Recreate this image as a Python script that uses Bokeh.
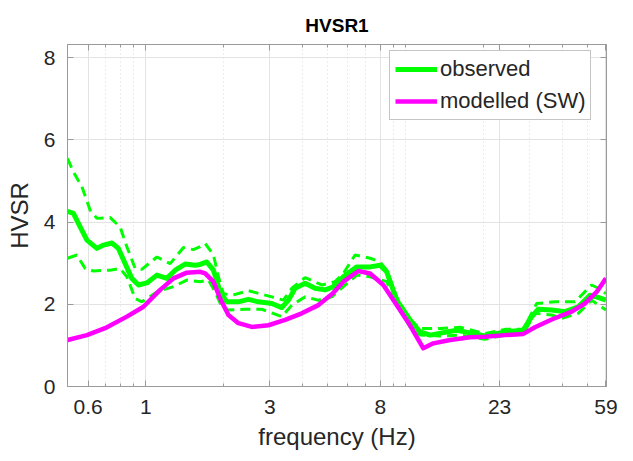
from bokeh.plotting import figure
from bokeh.models import (FixedTicker, LogAxis, LinearAxis, Legend, LegendItem,
                          Range1d, CustomJSTickFormatter)
from bokeh.embed import file_html
from bokeh.resources import INLINE

# ---------------- data ----------------
freq_mean = [0.50, 0.527, 0.56, 0.594, 0.649, 0.688, 0.741, 0.785, 0.833, 0.884,
             0.938, 1.01, 1.104, 1.206, 1.298, 1.418, 1.549, 1.62, 1.718, 1.822,
             1.933, 2.052, 2.273, 2.484, 2.714, 3.057, 3.339, 3.54, 3.756, 4.105,
             4.484, 4.90, 5.25, 5.76, 6.49, 7.30, 7.97, 8.46, 9.24, 10.40,
             11.36, 12.42, 13.97, 15.73, 16.92, 20.21, 24.12, 28.37, 30.56, 32.39,
             36.49, 41.05, 46.17, 51.2, 54.35, 59.0]
hvsr_mean = [4.26, 4.21, 3.88, 3.56, 3.36, 3.44, 3.49, 3.36, 2.99, 2.63,
             2.47, 2.52, 2.71, 2.63, 2.83, 2.98, 2.95, 2.97, 3.03, 2.83,
             2.30, 2.06, 2.06, 2.12, 2.06, 2.02, 1.92, 2.10, 2.39, 2.51,
             2.39, 2.35, 2.42, 2.67, 2.91, 2.91, 2.95, 2.79, 2.10, 1.62,
             1.33, 1.25, 1.31, 1.37, 1.33, 1.23, 1.33, 1.37, 1.70, 1.88,
             1.86, 1.82, 1.94, 2.22, 2.18, 2.10]

freq_upper = [0.50, 0.527, 0.568, 0.611, 0.649, 0.730, 0.797, 0.846, 0.911, 0.966,
              1.104, 1.242, 1.397, 1.526, 1.62, 1.693, 1.822, 1.904, 1.991, 2.144,
              2.484, 3.057, 3.387, 3.648, 4.105, 4.758, 5.35, 5.76, 6.39, 7.30,
              7.97, 8.46, 9.24, 10.40, 11.36, 13.57, 16.19, 20.21, 24.12, 28.37,
              31.94, 37.57, 44.84, 52.0, 55.1, 59.0]
hvsr_upper = [5.55, 5.22, 4.86, 4.29, 4.09, 4.11, 3.88, 3.40, 2.87, 2.85,
              3.15, 2.99, 3.38, 3.33, 3.40, 3.48, 3.20, 2.67, 2.26, 2.22,
              2.33, 2.18, 2.10, 2.39, 2.65, 2.47, 2.55, 2.75, 3.20, 3.12,
              3.03, 2.83, 2.18, 1.62, 1.41, 1.41, 1.44, 1.29, 1.39, 1.39,
              2.02, 2.06, 2.06, 2.47, 2.39, 2.26]

freq_lower = [0.50, 0.543, 0.585, 0.629, 0.730, 0.797, 0.846, 0.911, 0.966, 1.104,
              1.279, 1.439, 1.62, 1.743, 1.849, 1.962, 2.081, 2.412, 2.797, 3.339,
              3.648, 4.105, 4.618, 5.2, 5.76, 6.49, 7.30, 8.46, 9.24, 10.40,
              11.36, 13.57, 16.19, 20.21, 24.12, 28.37, 31.46, 36.49, 39.86, 46.17,
              52.0, 59.0]
hvsr_lower = [3.12, 3.20, 2.87, 2.81, 2.83, 2.87, 2.67, 2.14, 2.06, 2.30,
              2.43, 2.59, 2.55, 2.59, 2.30, 1.94, 1.86, 1.88, 1.88, 1.70,
              1.98, 2.18, 2.10, 2.18, 2.43, 2.71, 2.67, 2.55, 1.98, 1.45,
              1.25, 1.23, 1.25, 1.15, 1.25, 1.29, 1.78, 1.74, 1.66, 1.78,
              2.10, 1.86]

freq_model = [0.50, 0.594, 0.709, 0.846, 0.98, 1.136, 1.279, 1.439, 1.62, 1.693,
              1.822, 1.933, 2.081, 2.273, 2.56, 2.966, 3.438, 3.986, 4.618, 5.24,
              5.76, 6.58, 7.30, 8.21, 9.24, 10.40, 11.70, 12.78, 14.83, 17.69,
              20.21, 24.12, 28.37, 31.46, 36.49, 43.55, 49.0, 54.35, 59.0]
hvsr_model = [1.13, 1.25, 1.44, 1.70, 1.94, 2.35, 2.63, 2.77, 2.79, 2.75,
              2.55, 2.14, 1.74, 1.54, 1.45, 1.49, 1.62, 1.78, 1.98, 2.26,
              2.55, 2.81, 2.75, 2.47, 1.98, 1.49, 0.93, 1.05, 1.13, 1.20,
              1.21, 1.25, 1.28, 1.44, 1.63, 1.82, 2.02, 2.30, 2.63]

x_ticks = [0.6, 1, 3, 8, 23, 59]
x_minor = [0.5, 0.7, 0.8, 0.9, 2, 4, 5, 6, 7, 9, 10, 20, 30, 40, 50]
y_ticks = [0, 2, 4, 6, 8]

# ---------------- styling ----------------
FONT = "Liberation Sans"
TXT = "#262626"
AX = "#9a9a9a"
GREEN = "#00ff00"
MAGENTA = "#ff00ff"

p = figure(frame_width=539, frame_height=342,
           x_axis_type="log", x_range=Range1d(0.5, 59.3), y_range=Range1d(0, 8.32),
           output_backend="svg", toolbar_location=None,
           min_border_left=67, min_border_right=27, min_border_top=44, min_border_bottom=75,
           background_fill_color="white", border_fill_color="white")

p.title.text = "HVSR1"
p.title.align = "center"
p.title.text_font = FONT
p.title.text_font_size = "19px"
p.title.text_font_style = "bold"
p.title.text_color = "#000000"
p.title.standoff = 18

p.outline_line_color = AX

fmt = CustomJSTickFormatter(code="return String(tick)")
blank = CustomJSTickFormatter(code="return ''")

xax = p.xaxis[0]
xax.ticker = FixedTicker(ticks=x_ticks, minor_ticks=x_minor)
xax.formatter = fmt
xax.axis_label = "frequency (Hz)"
yax = p.yaxis[0]
yax.ticker = FixedTicker(ticks=y_ticks)
yax.axis_label = "HVSR"

for ax in (xax, yax):
    ax.axis_line_color = AX
    ax.major_tick_line_color = AX
    ax.minor_tick_line_color = AX
    ax.major_tick_in = 6
    ax.major_tick_out = 0
    ax.minor_tick_in = 3
    ax.minor_tick_out = 0
    ax.major_label_text_font = FONT
    ax.major_label_text_font_size = "21px"
    ax.major_label_text_color = TXT
    ax.axis_label_text_font = FONT
    ax.axis_label_text_font_size = "24px"
    ax.axis_label_text_font_style = "normal"
    ax.axis_label_text_color = TXT
xax.major_label_standoff = 13
xax.axis_label_standoff = 6
yax.major_label_standoff = 12
yax.axis_label_standoff = 8

top = LogAxis(ticker=FixedTicker(ticks=x_ticks, minor_ticks=x_minor), formatter=blank,
              axis_line_color=AX, major_tick_line_color=AX, minor_tick_line_color=AX,
              major_tick_in=6, major_tick_out=0, minor_tick_in=3, minor_tick_out=0,
              major_label_standoff=0)
right = LinearAxis(ticker=FixedTicker(ticks=y_ticks), formatter=blank,
                   axis_line_color=AX, major_tick_line_color=AX,
                   major_tick_in=6, major_tick_out=0, minor_tick_in=0, minor_tick_out=0,
                   major_label_standoff=0)
p.add_layout(top, "above")
p.add_layout(right, "right")

p.xgrid.ticker = FixedTicker(ticks=x_ticks, minor_ticks=x_minor)
p.xgrid.grid_line_color = "#e3e3e3"
p.xgrid.minor_grid_line_color = "#dadada"
p.xgrid.minor_grid_line_dash = "1 3"
p.ygrid.ticker = FixedTicker(ticks=y_ticks)
p.ygrid.grid_line_color = "#e3e3e3"

# ---------------- curves ----------------
p.line(freq_upper, hvsr_upper, line_color=GREEN, line_width=3, line_dash="10 6")
p.line(freq_lower, hvsr_lower, line_color=GREEN, line_width=3, line_dash="10 6")
r_mean = p.line(freq_mean, hvsr_mean, line_color=GREEN, line_width=5, line_join="round")
r_model = p.line(freq_model, hvsr_model, line_color=MAGENTA, line_width=4.5, line_join="round")

legend = Legend(items=[LegendItem(label="observed", renderers=[r_mean]),
                       LegendItem(label="modelled (SW)", renderers=[r_model])],
                location=(322, 266), glyph_width=42, glyph_height=22,
                label_standoff=3, padding=5, spacing=6, margin=0,
                label_text_font=FONT, label_text_font_size="22px", label_text_color=TXT,
                border_line_color="#8c8c8c", border_line_width=1,
                background_fill_color="white", background_fill_alpha=1.0)
p.add_layout(legend, "center")

open("out.html", "w").write(file_html(p, INLINE))
